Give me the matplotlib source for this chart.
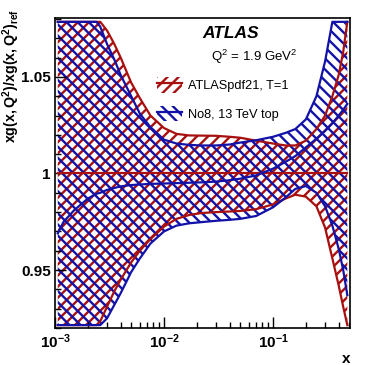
import numpy as np
import matplotlib.pyplot as plt
from matplotlib.patches import Patch
from matplotlib.lines import Line2D
from matplotlib.ticker import MultipleLocator, FixedLocator, NullFormatter

plt.rcParams['font.family'] = ['Liberation Sans', 'DejaVu Sans']
plt.rcParams['mathtext.fontset'] = 'custom'
plt.rcParams['mathtext.rm'] = 'Liberation Sans'
plt.rcParams['mathtext.bf'] = 'Liberation Sans:bold'
plt.rcParams['mathtext.it'] = 'Liberation Sans:italic'
plt.rcParams['hatch.linewidth'] = 1.7

# x grid
x = [0.00106, 0.0012, 0.0015, 0.002, 0.0024, 0.0026, 0.003, 0.0035, 0.004, 0.005,
     0.006, 0.0075, 0.01, 0.013, 0.017, 0.022, 0.03, 0.04, 0.05, 0.07,
     0.1, 0.13, 0.16, 0.2, 0.25, 0.3, 0.35, 0.4, 0.44, 0.48]

# ATLASpdf21, T=1 (red)
red_central = [1.0] * len(x)
red_up = [1.08, 1.08, 1.08, 1.08, 1.08, 1.079, 1.074, 1.067, 1.060, 1.047,
          1.039, 1.030, 1.0235, 1.0205, 1.0197, 1.0196, 1.0195, 1.019, 1.0185, 1.017,
          1.0155, 1.0145, 1.0145, 1.017, 1.023, 1.030, 1.040, 1.051, 1.063, 1.08]
red_lo = [0.92, 0.92, 0.92, 0.92, 0.92, 0.9235, 0.931, 0.939, 0.945, 0.954,
          0.960, 0.966, 0.9725, 0.9765, 0.9785, 0.9795, 0.980, 0.9803, 0.9806, 0.9815,
          0.984, 0.987, 0.989, 0.988, 0.983, 0.972, 0.956, 0.942, 0.931, 0.918]

# No8, 13 TeV top (blue)
blue_central = [0.969, 0.975, 0.981, 0.987, 0.9895, 0.990, 0.9915, 0.9925, 0.9933, 0.994,
                0.9943, 0.9946, 0.9948, 0.995, 0.9952, 0.9954, 0.9958, 0.9965, 0.9973, 0.999,
                1.0025, 1.006, 1.009, 1.0135, 1.018, 1.022, 1.026, 1.030, 1.033, 1.036]
blue_up = [1.08, 1.08, 1.08, 1.08, 1.079, 1.076, 1.067, 1.059, 1.051, 1.040,
           1.031, 1.024, 1.0175, 1.0155, 1.0148, 1.0145, 1.0145, 1.015, 1.016, 1.0172,
           1.019, 1.021, 1.023, 1.028, 1.040, 1.058, 1.08, 1.08, 1.08, 1.08]
blue_lo = [0.92, 0.92, 0.92, 0.92, 0.92, 0.9205, 0.925, 0.932, 0.938, 0.949,
           0.956, 0.9637, 0.970, 0.973, 0.9742, 0.9748, 0.9755, 0.976, 0.9765, 0.978,
           0.9825, 0.9875, 0.992, 0.9935, 0.990, 0.983, 0.973, 0.961, 0.950, 0.937]

RED = '#A80F0F'
BLUE = '#1212A8'
lo, hi = 0.9215, 1.0785

fig = plt.figure(figsize=(3.68, 3.65), dpi=100)
ax = fig.add_axes([0.1495, 0.1014, 0.8016, 0.8493])

ru, rl = np.clip(red_up, lo, hi), np.clip(red_lo, lo, hi)
bu, bl = np.clip(blue_up, lo, hi), np.clip(blue_lo, lo, hi)

ax.fill_between(x, rl, ru, facecolor='none', edgecolor=RED, hatch='///', linewidth=0)
ax.fill_between(x, bl, bu, facecolor='none', edgecolor=BLUE, hatch='\\\\\\', linewidth=0)
for y in (ru, rl, red_central):
    ax.plot(x, y, color=RED, lw=1.6)
for y in (bu, bl, np.clip(blue_central, lo, hi)):
    ax.plot(x, y, color=BLUE, lw=1.6)

ax.set_xscale('log')
ax.set_xlim(1e-3, 0.508)
ax.set_ylim(0.92, 1.0805)

ax.xaxis.set_major_locator(FixedLocator([1e-3, 1e-2, 1e-1]))
ax.set_xticklabels([r'$\mathbf{10^{-3}}$', r'$\mathbf{10^{-2}}$', r'$\mathbf{10^{-1}}$'])
minors = [m * d for d in (1e-3, 1e-2, 1e-1) for m in range(2, 10) if m * d < 0.51]
ax.xaxis.set_minor_locator(FixedLocator(minors))
ax.xaxis.set_minor_formatter(NullFormatter())
ax.yaxis.set_major_locator(FixedLocator([0.95, 1.0, 1.05]))
ax.set_yticklabels(['0.95', '1', '1.05'])
ax.yaxis.set_minor_locator(MultipleLocator(0.01))
ax.tick_params(which='both', direction='in', top=False, right=False, width=1)
ax.tick_params(which='major', length=8, labelsize=11, pad=3)
ax.tick_params(which='minor', length=4)
for lab in ax.get_yticklabels():
    lab.set_fontweight('bold')
for s in ax.spines.values():
    s.set_linewidth(1.2)

ax.set_xlabel('x', loc='right', fontsize=11, fontweight='bold', labelpad=1)
ax.set_ylabel(r'$\mathbf{xg(x,Q^2)/xg(x,Q^2)_{ref}}$', loc='top', fontsize=10.3)
ax.yaxis.set_label_coords(-0.113, 1.03)

ax.text(0.50, 0.95, 'ATLAS', transform=ax.transAxes, fontsize=12.5,
        fontweight='bold', fontstyle='italic', va='center')
ax.text(0.53, 0.874, r'Q$^2$ = 1.9 GeV$^2$', transform=ax.transAxes, fontsize=9.5, va='center')

h_red = (Patch(facecolor='none', edgecolor=RED, hatch='///', lw=0), Line2D([], [], color=RED, lw=1.6))
h_blue = (Patch(facecolor='none', edgecolor=BLUE, hatch='\\\\\\', lw=0), Line2D([], [], color=BLUE, lw=1.6))
ax.legend([h_red, h_blue], ['ATLASpdf21, T=1', 'No8, 13 TeV top'], loc='upper left',
          bbox_to_anchor=(0.33, 0.825), frameon=False, fontsize=9.2, handlelength=1.9,
          handleheight=1.5, labelspacing=1.0, handletextpad=0.45, borderaxespad=0)

fig.savefig('out.png', dpi=100)
